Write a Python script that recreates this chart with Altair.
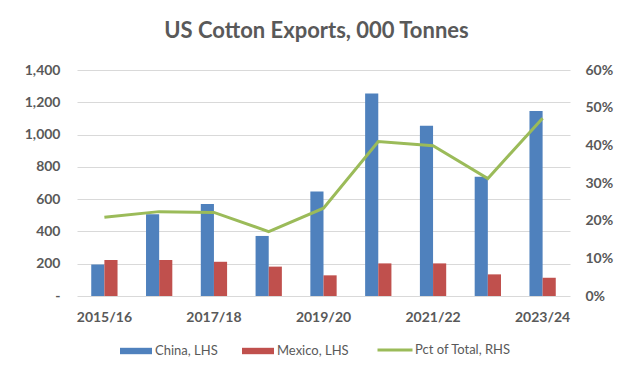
import altair as alt
import pandas as pd

years = ["2015/16", "2016/17", "2017/18", "2018/19", "2019/20",
         "2020/21", "2021/22", "2022/23", "2023/24"]
china = [195, 506, 570, 372, 648, 1255, 1055, 739, 1146]
mexico = [223, 223, 212, 182, 128, 202, 202, 134, 113]
pct = [0.209, 0.224, 0.222, 0.171, 0.233, 0.410, 0.399, 0.312, 0.472]
tick_labels = ["2015/16", "2017/18", "2019/20", "2021/22", "2023/24"]
bar_series = ["China, LHS", "Mexico, LHS"]
line_series = ["Pct of Total, RHS"]

BLUE = "#4F81BD"
RED = "#C0504D"
GREEN = "#9BBB59"
GREY = "#595959"
FONT = "Lato"

bars_df = pd.DataFrame(
    [{"year": y, "series": bar_series[0], "value": v} for y, v in zip(years, china)]
    + [{"year": y, "series": bar_series[1], "value": v} for y, v in zip(years, mexico)]
)
line_df = pd.DataFrame({"year": years, "pct": pct, "name": line_series[0]})

x_scale = alt.Scale(domain=years, paddingInner=0.52, paddingOuter=0.26)
x_axis = alt.Axis(values=tick_labels, title=None, labelAngle=0, domain=False,
                  ticks=False, labelPadding=14, labelFont=FONT, labelFontSize=14,
                  labelFontWeight="bold", labelColor=GREY)

bars = alt.Chart(bars_df).mark_bar().encode(
    x=alt.X("year:N", scale=x_scale, axis=x_axis, sort=years),
    xOffset=alt.XOffset("series:N", scale=alt.Scale(domain=bar_series, paddingInner=0, paddingOuter=0)),
    y=alt.Y("value:Q",
            scale=alt.Scale(domain=[0, 1400], nice=False),
            axis=alt.Axis(values=[0, 200, 400, 600, 800, 1000, 1200, 1400],
                          labelExpr="datum.value == 0 ? '-' : format(datum.value, ',')",
                          title=None, domain=False, ticks=False, labelPadding=17,
                          grid=True, gridColor="#d9d9d9", gridWidth=1,
                          labelFont=FONT, labelFontSize=14, labelFontWeight="bold",
                          labelColor=GREY)),
    color=alt.Color("series:N",
                    scale=alt.Scale(domain=bar_series, range=[BLUE, RED]),
                    legend=alt.Legend(title=None, orient="none", direction="horizontal",
                                      legendX=43, legendY=265,
                                      symbolType="M-1,-0.2H1V0.2H-1Z", symbolSize=1024,
                                      symbolStrokeWidth=0, symbolOpacity=1,
                                      labelFont=FONT, labelFontSize=13, labelColor=GREY,
                                      labelOffset=3, columnPadding=24)),
)

line = alt.Chart(line_df).mark_line(strokeWidth=3).encode(
    x=alt.X("year:N", scale=x_scale, axis=x_axis, sort=years, bandPosition=0.5),
    y=alt.Y("pct:Q",
            scale=alt.Scale(domain=[0, 0.6], nice=False),
            axis=alt.Axis(values=[0, 0.1, 0.2, 0.3, 0.4, 0.5, 0.6], format=".0%",
                          orient="right", title=None, domain=False, ticks=False,
                          grid=False, labelPadding=15, labelFont=FONT,
                          labelFontSize=14, labelFontWeight="bold", labelColor=GREY)),
    stroke=alt.Stroke("name:N",
                      scale=alt.Scale(domain=line_series, range=[GREEN]),
                      legend=alt.Legend(title=None, orient="none", direction="horizontal",
                                        legendX=299, legendY=261,
                                        symbolType="stroke", symbolSize=1225,
                                        symbolStrokeWidth=3,
                                        labelFont=FONT, labelFontSize=13, labelColor=GREY,
                                        labelOffset=1)),
)

chart = alt.layer(bars, line).resolve_scale(y="independent").properties(
    width=493, height=226,
    autosize=alt.AutoSizeParams(type="none"),
    padding={"left": 77, "top": 70, "right": 49, "bottom": 72},
    background="white",
    title=alt.TitleParams("US Cotton Exports, 000 Tonnes", font=FONT, fontSize=22,
                          fontWeight="bold", color=GREY, anchor="middle", offset=20, dx=-7),
).configure_view(stroke=None)

chart.save("out.html", embed_options={"renderer": "svg", "actions": False})
